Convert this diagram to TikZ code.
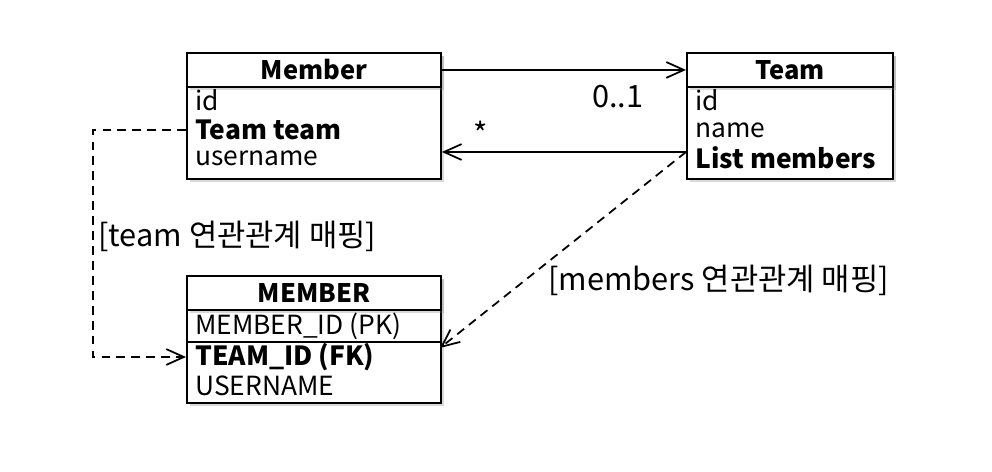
\documentclass[tikz,border=0pt]{standalone}
\usepackage{fontspec}
\setmainfont{Noto Sans CJK KR}
\usetikzlibrary{arrows.meta,positioning,shadows}

\tikzset{
    box/.style={draw, line width=1.1pt, fill=white, drop shadow={opacity=0.3, shadow xshift=1.5pt, shadow yshift=-1.5pt}},
    hdr/.style={box, font=\fontsize{14.5}{16}\selectfont\bfseries, minimum height=0.68cm, inner sep=0pt},
    row/.style={anchor=west, inner sep=0pt, font=\fontsize{15}{17}\selectfont},
    key/.style={row, font=\fontsize{15}{17}\selectfont\bfseries},
    assoc/.style={line width=1pt, -{Straight Barb[length=10pt, width=9pt]}},
    mapping/.style={line width=1pt, dash pattern=on 5pt off 3.5pt, -{Straight Barb[length=10pt, width=9pt]}},
    note/.style={inner sep=0pt, font=\fontsize{17.5}{20}\selectfont}
}

\begin{document}
\begin{tikzpicture}[x=0.02cm, y=-0.02cm]
    \useasboundingbox (0,0) rectangle (992,472);

    % Define nodes
    \node[box, minimum width=5.08cm, minimum height=2.52cm, anchor=north west] (memberBd) at (186,52) {};
    \node[hdr, minimum width=5.08cm, anchor=north west] (memberHd) at (186,52) {Member};
    \node[row] (mId) at (195,100) {id};
    \node[key] (mTeam) at (195,130) {Team team};
    \node[row] (mName) at (195,158) {username};

    \node[box, minimum width=4.12cm, minimum height=2.52cm, anchor=north west] (teamBd) at (686,52) {};
    \node[hdr, minimum width=4.12cm, anchor=north west] (teamHd) at (686,52) {Team};
    \node[row] (tId) at (695,100) {id};
    \node[row] (tName) at (695,130) {name};
    \node[key] (tList) at (695,158) {List members};

    \node[box, minimum width=5.08cm, minimum height=2.54cm, anchor=north west] (dbBd) at (186,275) {};
    \node[hdr, minimum width=5.08cm, anchor=north west] (dbHd) at (186,275) {MEMBER};
    \draw[line width=1.1pt] (186,342) -- (440,342);
    \node[row] (dId) at (195,326) {MEMBER\_ID (PK)};
    \node[key] (dTeam) at (195,357) {TEAM\_ID (FK)};
    \node[row] (dName) at (195,386) {USERNAME};

    \coordinate (teamOut) at (686,152);
    \coordinate (dbIn) at (440,348);

    % Associations
    \draw[assoc] (memberHd.east) -- (memberHd.east -| teamHd.west) node[pos=0.72, below=8pt, note] {0..1};
    \draw[assoc] (teamOut) -- (teamOut -| memberBd.east) node[pos=0.84, above=3pt, note] {*};

    % Mappings
    \draw[mapping] (mTeam.west -| memberBd.west) -- ++(-93,0) |- (dTeam.west -| dbBd.west);
    \draw[mapping] (teamOut) -- (dbIn);

    \node[note, anchor=west] (teamMap) at (98,236) {[team 연관관계 매핑]};
    \node[note, anchor=west] (listMap) at (548,280) {[members 연관관계 매핑]};
\end{tikzpicture}
\end{document}
